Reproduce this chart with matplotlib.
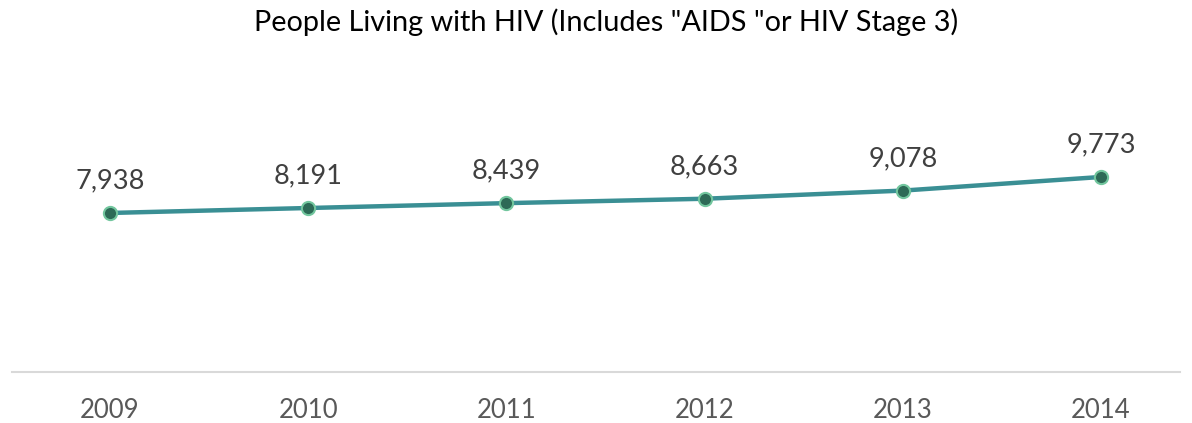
import matplotlib
matplotlib.use("Agg")
import matplotlib.pyplot as plt

years = ["2009", "2010", "2011", "2012", "2013", "2014"]
values = [7938, 8191, 8439, 8663, 9078, 9773]
title = 'People Living with HIV (Includes "AIDS "or HIV Stage 3)'

W, H = 1192, 423
fig = plt.figure(figsize=(W / 100, H / 100), dpi=100)
plt.rcParams['font.family'] = ['Lato', 'DejaVu Sans']

left_px, right_px = 12, 1180
bottom_px, top_px = 372, 136
ax = fig.add_axes([left_px / W, 1 - bottom_px / H, (right_px - left_px) / W, (bottom_px - top_px) / H])
x = list(range(len(years)))
ax.plot(x, values, color="#3A8F94", linewidth=3.2, zorder=2, solid_capstyle="round")
ax.plot(x, values, linestyle="none", marker="o", markersize=9.5,
        markerfacecolor="#2D6A56", markeredgecolor="#72C69E", markeredgewidth=1.5, zorder=3)
for xi, v in zip(x, values):
    ax.annotate(f"{v:,}", (xi, v), xytext=(0, 14), textcoords="offset points",
                ha="center", va="bottom", fontsize=19.5, color="#404040")

ax.set_xlim((left_px - 110) / 198.2, (right_px - 110) / 198.2)
ax.set_ylim(-168, 11861)
ax.set_xticks(x)
ax.set_xticklabels(years, fontsize=18.5, color="#595959")
ax.tick_params(axis="x", length=0, pad=19)
ax.set_yticks([])
for s in ["top", "right", "left"]:
    ax.spines[s].set_visible(False)
ax.spines["bottom"].set_color("#D9D9D9")
ax.spines["bottom"].set_linewidth(1.5)
ax.patch.set_alpha(0)

fig.text(606 / W, 1 - 22 / H, title, ha="center", va="center", fontsize=20.8, color="#000000")
fig.savefig("out.png", dpi=100)
